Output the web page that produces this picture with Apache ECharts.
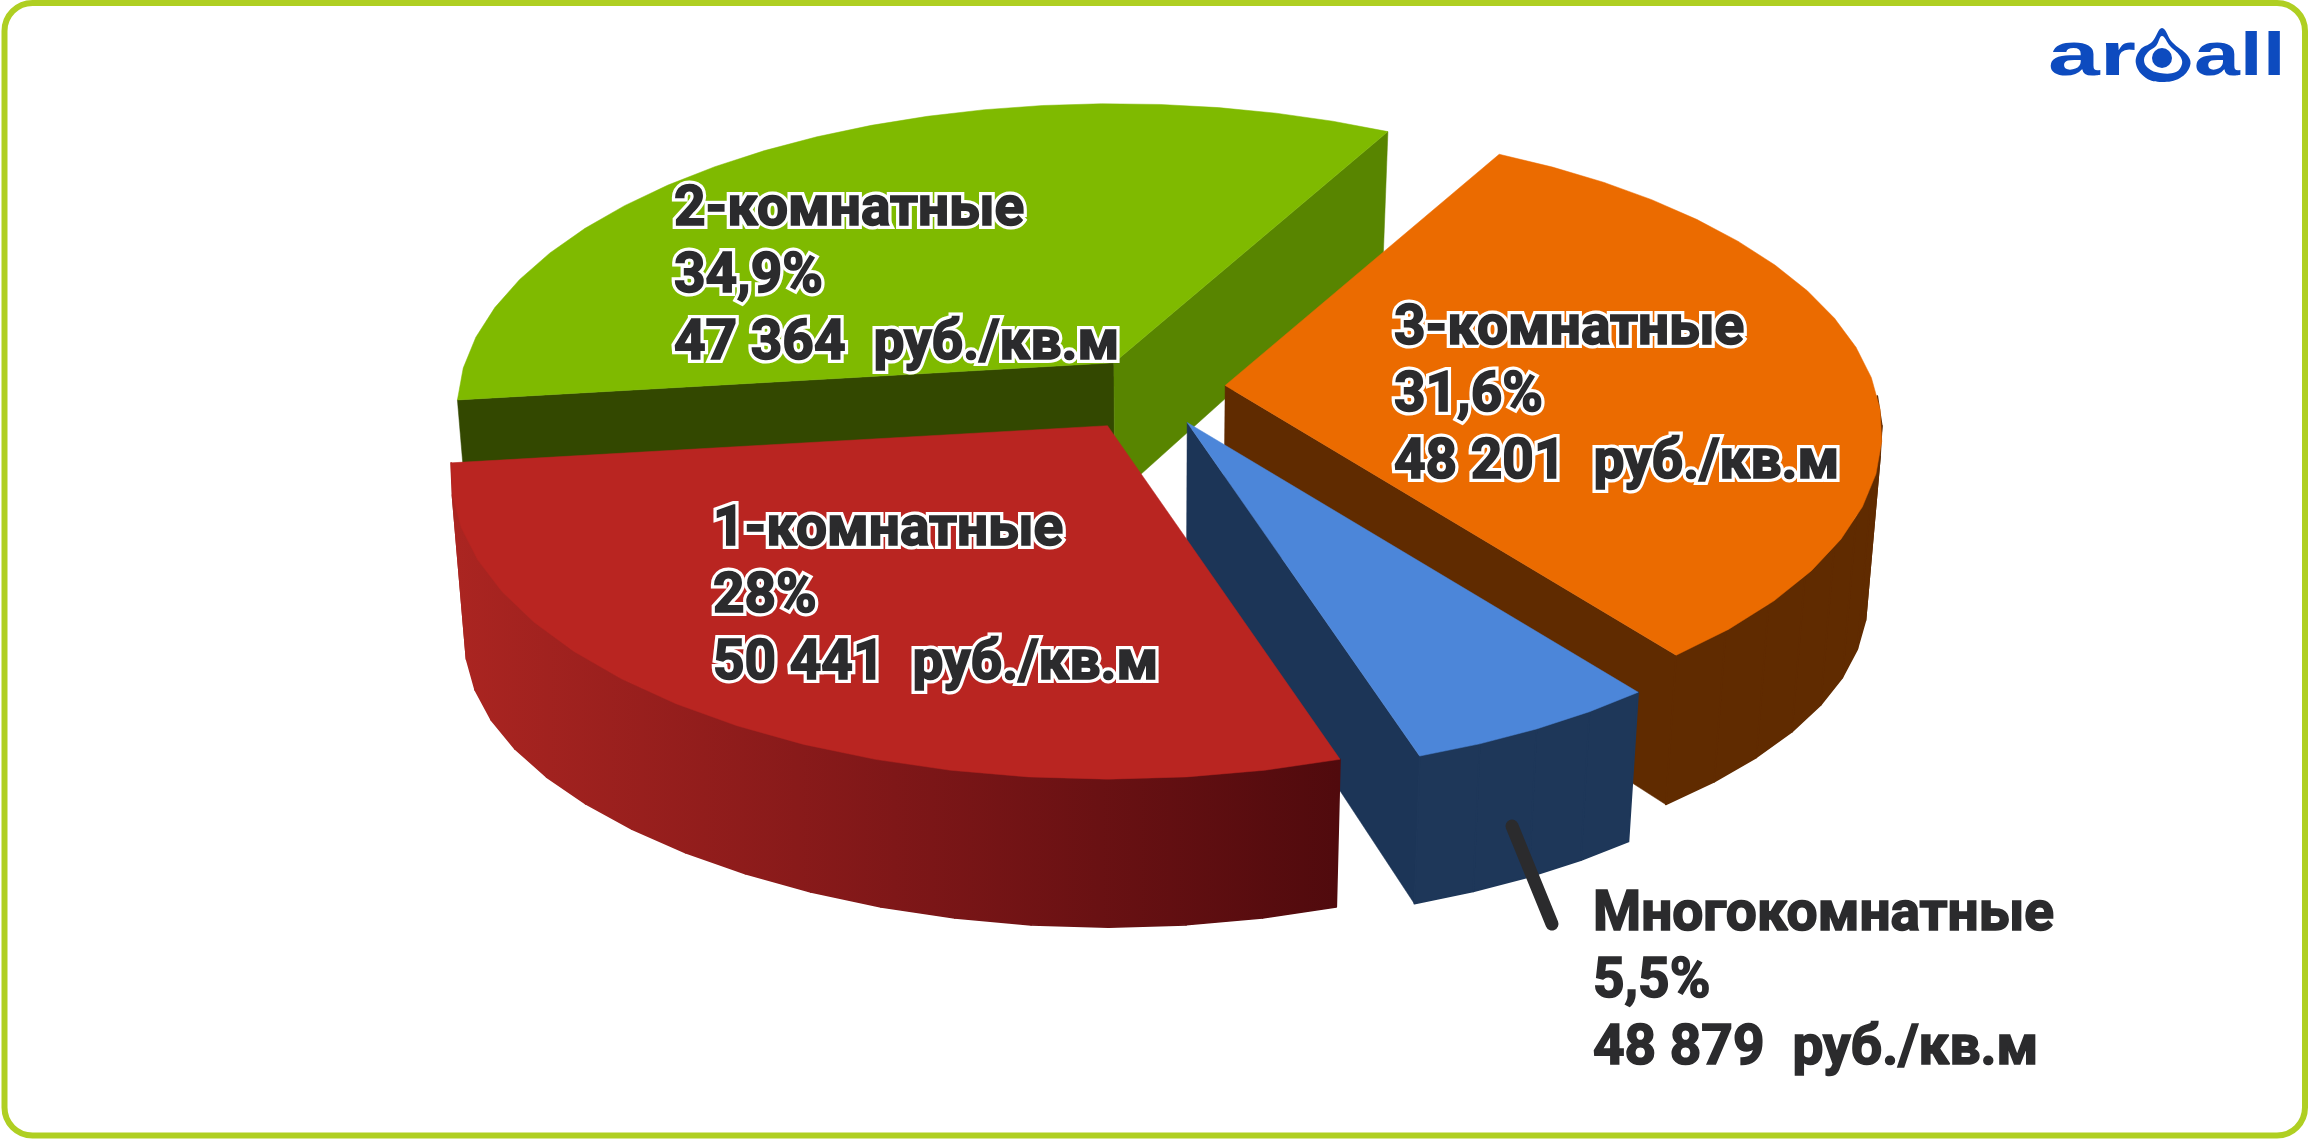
<!DOCTYPE html>
<html><head><meta charset="utf-8">
<style>html,body{margin:0;padding:0;background:#fff}#c{width:2308px;height:1139px}</style>
<script src="https://cdn.jsdelivr.net/npm/echarts@6/dist/echarts.min.js"></script>
</head><body><div id="c"></div>
<script>
// Data
const categories = ['2-комнатные', '3-комнатные', 'Многокомнатные', '1-комнатные'];
const shares = [34.9, 31.6, 5.5, 28];
const prices = [47364, 48201, 48879, 50441];

// Styles per slice
const topColors = ['#7FBA00', '#EB6B00', '#4C86D9', '#B92521'];
const startSide = ['#334800', '#602B00', '#1C3557', '#5A0D0E'];
const endSide = ['#588500', '#602B00', '#1C3557', '#5A0D0E'];
const rimColors = ['#334800', '#602B00', '#1E3759', 'gradient'];
const explode = [0.11, 0.11, 0.10, 0.11];
const nudgeX = [0, 0, 3, -8];
const nudgeY = [-3, -5, 3, 5];
const labelPos = [[674, 211], [1394, 330], [1593, 916], [713, 531]];
const labelOutline = [true, true, false, true];

// Pie projection
const centerX = 1154, centerY = 393, radX = 649, radY = 299, persp = 0.154, startDeg = 173;
const facetDeg = 6;
const rad = d => d * Math.PI / 180;

function topPt(ax, ay, X, Y) {
  const w = 1 - persp * Y;
  return [ax + radX * X / w, ay + radY * Y / w];
}
function bottomPt(ax, ay, X, Y) {
  const p = topPt(ax, ay, X, Y);
  return [p[0] + (centerX - p[0]) * 0.02, p[1] + 135 + 29 * X * X * X * X + 13 * Y];
}
function arcAngles(d0, d1) {
  const out = [];
  const n = Math.max(2, Math.ceil(Math.abs(d1 - d0) / facetDeg));
  for (let i = 0; i <= n; i++) out.push(rad(d0 + (d1 - d0) * i / n));
  return out;
}
const total = shares.reduce((s, v) => s + v, 0);
const starts = [];
shares.reduce((acc, v, i) => { starts[i] = acc; return acc + v / total * 360; }, startDeg);

function renderSlice(params, api) {
  const i = api.value(0);
  const d0 = starts[i], d1 = d0 + shares[i] / total * 360;
  const mid = rad((d0 + d1) / 2);
  const ax = centerX + nudgeX[i] + explode[i] * radX * Math.cos(mid);
  const ay = centerY + nudgeY[i] + explode[i] * radY * Math.sin(mid);
  const children = [];
  const poly = (points, fill, w) => children.push({
    type: 'polygon', shape: { points }, silent: true,
    style: { fill, stroke: fill, lineWidth: w || 0.5, lineJoin: 'round' }
  });
  const radial = (deg, col) => {
    const c = Math.cos(rad(deg)), s = Math.sin(rad(deg));
    poly([topPt(ax, ay, 0, 0), topPt(ax, ay, c, s), bottomPt(ax, ay, c, s), bottomPt(ax, ay, 0, 0)], col);
  };
  if (Math.sin(rad(d0 - 90)) > 0) radial(d0, startSide[i]);
  if (Math.sin(rad(d1 + 90)) > 0) radial(d1, endSide[i]);
  // visible outer wall, one quad per facet
  [[2, 173], [362, 533]].forEach(([a, b]) => {
    const lo = Math.max(a, d0), hi = Math.min(b, d1);
    if (hi - lo > 0.5) {
      const fill = rimColors[i] === 'gradient'
        ? new echarts.graphic.LinearGradient(450, 0, 1340, 0, [
            { offset: 0, color: '#AB2521' }, { offset: 0.5, color: '#7F1718' }, { offset: 1, color: '#500A0D' }], true)
        : rimColors[i];
      const ang = arcAngles(lo, hi);
      for (let k = 0; k + 1 < ang.length; k++) {
        const c0 = Math.cos(ang[k]), s0 = Math.sin(ang[k]), c1 = Math.cos(ang[k + 1]), s1 = Math.sin(ang[k + 1]);
        poly([topPt(ax, ay, c0, s0), topPt(ax, ay, c1, s1), bottomPt(ax, ay, c1, s1), bottomPt(ax, ay, c0, s0)], fill, 1.6);
      }
    }
  });
  poly([topPt(ax, ay, 0, 0)].concat(arcAngles(d0, d1).map(d => topPt(ax, ay, Math.cos(d), Math.sin(d)))), topColors[i]);
  return { type: 'group', children };
}

const fmtShare = v => String(v).replace('.', ',') + '%';
const fmtPrice = v => String(v).replace(/(\d)(?=(\d{3})$)/, '$1 ') + '\u2002руб./кв.м';
const textFont = 'Roboto, sans-serif';
const lineGap = 67;
const darkText = '#2B2B2D';

const labelText = i => categories[i] + '\n' + fmtShare(shares[i]) + '\n' + fmtPrice(prices[i]);
const labelBase = i => ({
  type: 'text', x: labelPos[i][0], y: labelPos[i][1] - 33.5,
  style: { text: labelText(i), font: 'bold 55px ' + textFont, lineHeight: lineGap, fill: darkText, lineJoin: 'round' }
});
const labels = [];
categories.forEach((c, i) => {
  if (labelOutline[i]) {
    const under = labelBase(i);
    under.z = 50;
    under.style.stroke = '#FFFFFF';
    under.style.lineWidth = 8;
    labels.push(under);
  }
  const over = labelBase(i);
  over.z = 51;
  over.style.stroke = darkText;
  over.style.lineWidth = 1.6;
  labels.push(over);
});

const logoBlue = '#0D4BBF';
const logo = [
  { type: 'text', x: 2048, y: 27, scaleX: 1.5, z: 60,
    style: { text: 'ar', font: 'bold 62px "Liberation Sans"', fill: logoBlue } },
  { type: 'text', x: 2194, y: 27, scaleX: 1.33, z: 60,
    style: { text: 'all', font: 'bold 62px "Liberation Sans"', fill: logoBlue } },
  { type: 'polygon', z: 60, shape: { smooth: 0.4, points: [[2162,28],[2172,42],[2188,56],[2190,66],[2180,78],[2162,82],[2146,78],[2136,64],[2140,50],[2152,42]] }, style: { fill: logoBlue } },
  { type: 'polygon', z: 61, shape: { smooth: 0.4, points: [[2162,36],[2170,46],[2180,56],[2182,64],[2176,72],[2160,73],[2148,68],[2144,60],[2148,52],[2156,46]] }, style: { fill: '#FFFFFF' } },
  { type: 'circle', z: 62, shape: { cx: 2162, cy: 58, r: 10 }, style: { fill: logoBlue } }
];

const frame = { type: 'rect', z: 40, shape: { x: 4.5, y: 3, width: 2300.5, height: 1132.5, r: 28 },
  style: { fill: 'none', stroke: '#AFCF22', lineWidth: 6 } };
const leader = { type: 'line', z: 45, shape: { x1: 1512, y1: 826, x2: 1552, y2: 924 },
  style: { stroke: darkText, lineWidth: 13, lineCap: 'round' } };

const chart = echarts.init(document.getElementById('c'), null, { renderer: 'canvas', width: 2308, height: 1139 });
chart.setOption({
  animation: false,
  backgroundColor: '#FFFFFF',
  graphic: { elements: [frame, leader].concat(labels, logo) },
  series: [{
    type: 'custom', coordinateSystem: 'none', silent: true, clip: false,
    renderItem: renderSlice,
    data: categories.map((c, i) => [i, shares[i]])
  }]
});
</script></body></html>
